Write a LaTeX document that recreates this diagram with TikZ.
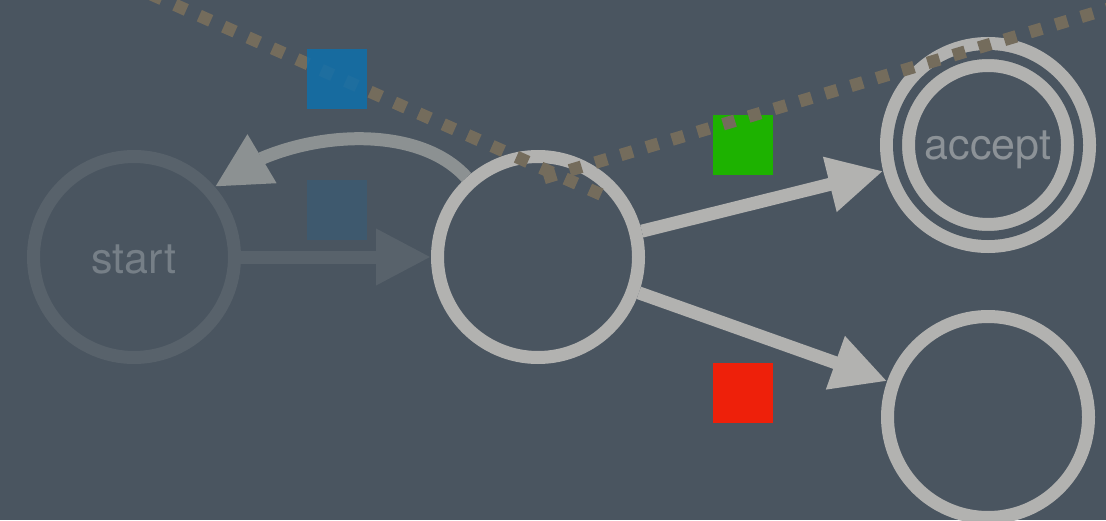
\documentclass[tikz,border=0pt]{standalone}
\usepackage{fontspec}
\setmainfont{TeX Gyre Heros}
\usetikzlibrary{arrows.meta,bending}

\definecolor{bgcol}{RGB}{74,85,96}
\definecolor{statecol}{RGB}{178,178,176}
\definecolor{labelcol}{RGB}{140,146,151}
\definecolor{fadecol}{RGB}{88,98,107}
\definecolor{fadetext}{RGB}{118,127,135}
\definecolor{backcol}{RGB}{140,145,146}
\definecolor{dotcol}{RGB}{116,108,92}
\definecolor{bluesq}{RGB}{15,111,171}
\definecolor{paleblue}{RGB}{62,89,110}
\definecolor{greensq}{RGB}{29,178,0}
\definecolor{redsq}{RGB}{238,32,10}

\begin{document}
\begin{tikzpicture}[x=0.5pt,y=0.5pt,
  state/.style={circle, draw=statecol, line width=6.5pt, minimum size=100.5pt,
    inner sep=0pt, font=\fontsize{21.5pt}{24pt}\selectfont, text=labelcol},
  faded/.style={draw=fadecol, text=fadetext},
  final/.style={double=bgcol, double distance=4.5pt, minimum size=90.5pt, outer sep=8.75pt},
  tip/.style={-{Triangle[length=27.5pt,width=26.5pt]}},
  link/.style={line width=6.5pt, draw=statecol, tip},
  marker/.style={rectangle, minimum size=30pt, inner sep=0pt},
  dots/.style={draw=dotcol, line width=6.25pt, dash pattern=on 6.25pt off 7.1pt}
]
\fill[bgcol] (0,0) rectangle (1106,520);
\useasboundingbox (0,0) rectangle (1106,520);
\clip (0,0) rectangle (1106,520);

% states
\node[state, faded] (start) at (134,263) {\raisebox{-1.4pt}[\height][\depth]{start}};
\node[state] (mid) at (538,263) {};
\node[state, final] (accept) at (988,375) {\raisebox{-2.4pt}[\height][\depth]{accept}};
\node[state] (reject) at (988,103) {};

% transitions
\draw[link, draw=fadecol] (start) -- (mid);
\draw[link, draw=backcol] (mid) to[out=132, in=41, looseness=0.83] (start);
\draw[link] (mid) -- (accept);
\draw[link] (mid) -- (reject);

% markers under the dotted guides
\node[marker, fill=paleblue] (pale) at (337,310) {};
\node[marker, fill=greensq] (green) at (743,375) {};
\node[marker, fill=redsq] (red) at (743,127) {};

% dotted guides
\coordinate (g1a) at (601,325.5);
\coordinate (g1b) at (100,548.5);
\coordinate (g2a) at (544,342);
\coordinate (g2b) at (1150,523.8);
\draw[dots] (g1a) -- (g1b);
\draw[dots] (g2a) -- (g2b);

% marker drawn over the guide
\node[marker, fill=bluesq, fill opacity=0.85] (blue) at (337,441) {};
\end{tikzpicture}
\end{document}
